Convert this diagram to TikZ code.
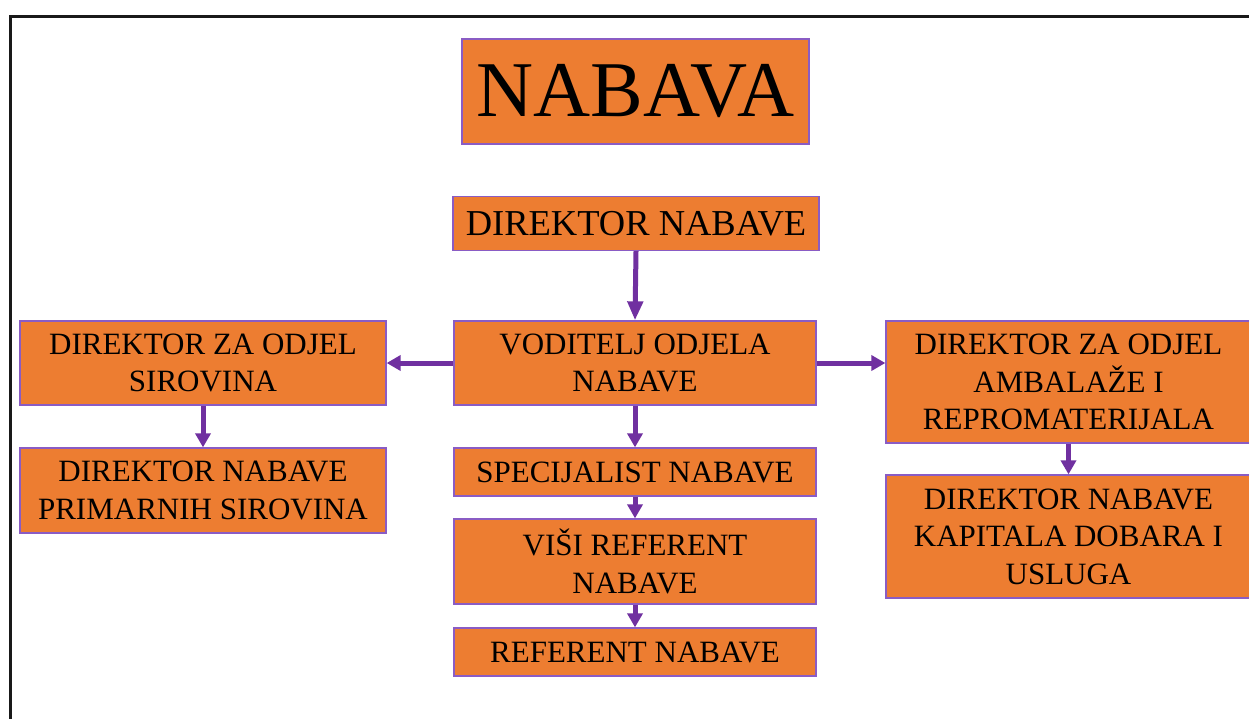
\documentclass[tikz,border=0pt]{standalone}
\usepackage{fontspec}
\setmainfont{Liberation Serif}
\usetikzlibrary{arrows.meta}
\definecolor{boxorange}{HTML}{ED7D31}
\definecolor{boxborder}{HTML}{8A5CC4}
\definecolor{arrpurple}{HTML}{7030A0}
\tikzset{
  orgbox/.style={draw=boxborder, line width=1.3pt, fill=boxorange, rectangle, inner sep=0pt, align=center, font=\fontsize{31}{37.5}\selectfont},
  conn/.style={draw=arrpurple, line width=5pt, -{Triangle[length=14pt,width=15pt]}},
  connlong/.style={draw=arrpurple, line width=5pt, -{Triangle[length=19pt,width=15pt]}},
}
\begin{document}
\begin{tikzpicture}[x=1pt,y=-1pt]
\useasboundingbox (0,0) rectangle (1249,718);
\clip (0,0) rectangle (1249,718);
\fill[white] (0,0) rectangle (1249,718);
\draw[line width=3pt, black!90] (10,730) -- (10,16) -- (1260,16);

\node[orgbox, minimum width=347pt, minimum height=105pt, font=\fontsize{79}{90}\selectfont] (nab) at (635.5,91.5) {NABAVA};
\node[orgbox, minimum width=366pt, minimum height=54pt, font=\fontsize{36.5}{40}\selectfont] (dir) at (636,223.5) {DIREKTOR NABAVE};
\node[orgbox, minimum width=362pt, minimum height=84pt] (vod) at (635,363) {VODITELJ ODJELA\\NABAVE};
\node[orgbox, minimum width=366pt, minimum height=84pt] (lft) at (203,363) {DIREKTOR ZA ODJEL\\SIROVINA};
\node[orgbox, minimum width=366pt, minimum height=85pt] (prim) at (203,490.5) {DIREKTOR NABAVE\\PRIMARNIH SIROVINA};
\node[orgbox, minimum width=365pt, minimum height=122pt] (rgt) at (1068.5,382) {DIREKTOR ZA ODJEL\\AMBALAŽE I\\REPROMATERIJALA};
\node[orgbox, minimum width=365pt, minimum height=123pt] (kap) at (1068.5,536.5) {DIREKTOR NABAVE\\KAPITALA DOBARA I\\USLUGA};
\node[orgbox, minimum width=362pt, minimum height=48pt] (spec) at (635,472) {SPECIJALIST NABAVE};
\node[orgbox, minimum width=362pt, minimum height=85pt] (visi) at (635,561.5) {VIŠI REFERENT\\NABAVE};
\node[orgbox, minimum width=362pt, minimum height=48pt] (ref) at (635,652) {REFERENT NABAVE};

\draw[connlong] (dir.south) -- (vod.north);
\draw[conn] (vod.west) -- (lft.east);
\draw[conn] (vod.east) -- (vod.east -| rgt.west);
\draw[conn] (lft.south) -- (prim.north);
\draw[conn] (rgt.south) -- (kap.north);
\draw[conn] (vod.south) -- (spec.north);
\draw[conn] (spec.south) -- (visi.north);
\draw[conn] (visi.south) -- (ref.north);
\end{tikzpicture}
\end{document}
